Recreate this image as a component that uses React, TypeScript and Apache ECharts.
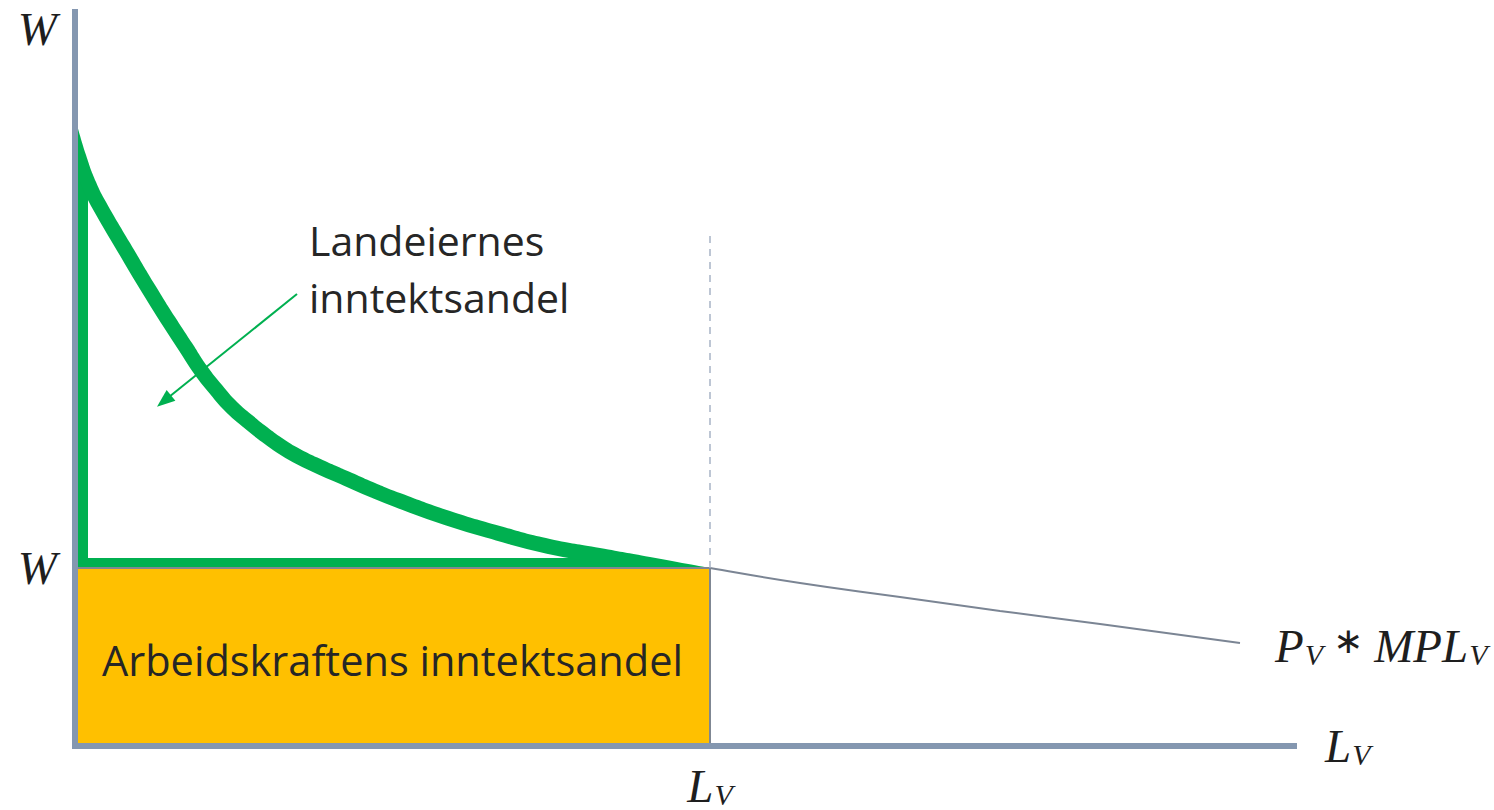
import { useEffect, useRef } from 'react';
import * as echarts from 'echarts';

// ---- data (x: labour L_V, y: wage / value of marginal product) ----
const CURVE_X = [1, 11, 21, 31, 55, 80, 100, 117, 132, 147, 162, 177, 192, 207, 225, 250, 275, 300, 325, 375, 425, 475, 525, 575, 635, 725, 825, 925, 1025, 1165];
const CURVE_Y = [625, 591, 564, 544, 503, 461, 429, 403, 380, 361, 344, 331, 319, 308, 297, 285, 274, 263, 253, 235, 220, 207, 198, 189, 178, 163, 149, 135, 122, 103];
const L_V = 635;
const W = 178;
const X_MAX = 1219;
const Y_MAX = 734;
const W_TOP_LABEL = 717;
const DASH_TOP = 516;
const ARROW_FROM = [222, 452];
const ARROW_TO = [89, 345];
const RECT_LABEL = 'Arbeidskraftens inntektsandel';
const LAND_LABEL = ['Landeiernes', 'inntektsandel'];
const Y_LABELS = [W, W_TOP_LABEL];
const X_LABELS = [L_V];

// ---- styles ----
const GREEN = '#00B050';
const AXIS = '#8497B0';
const ORANGE = '#FFC000';
const GRAY = '#7B8594';
const DASH = '#A8B4C6';
const TEXT = '#262626';
const MATH = '#1E1E1E';
const BAND_V = 13;
const BAND_H = 10;
const STROKE = 30;

const PLOT = { left: 75, top: 12, width: 1219, height: 734 };

function subGrid(x0: number, x1: number, y0: number, y1: number) {
  const sx = PLOT.width / X_MAX;
  const sy = PLOT.height / Y_MAX;
  return {
    left: PLOT.left + x0 * sx,
    top: PLOT.top + (Y_MAX - y1) * sy,
    width: (x1 - x0) * sx,
    height: (y1 - y0) * sy,
    outerBoundsMode: 'none',
    containLabel: false,
  };
}

const mathFont = { fontFamily: 'Liberation Serif', fontStyle: 'italic', color: MATH };
const mathRich = {
  m: { ...mathFont, fontSize: 47, lineHeight: 47, verticalAlign: 'top' },
  s: { ...mathFont, fontSize: 30, lineHeight: 30, padding: [21, 0, 0, 1], verticalAlign: 'bottom' },
  a: { fontFamily: 'DejaVu Sans', fontSize: 36, lineHeight: 47, color: MATH, padding: [0, 11, 0, 10], verticalAlign: 'top' },
};

export default function App() {
  const ref = useRef<HTMLDivElement>(null);

  useEffect(() => {
    if (!ref.current) return;
    const chart = echarts.init(ref.current, undefined, { renderer: 'svg' });
    const curve = CURVE_X.map((x, i) => [x, CURVE_Y[i]]);
    const curveToLv = curve.filter((p) => p[0] <= L_V);

    const hiddenAxis = (gridIndex: number, min: number, max: number) => ({
      gridIndex, type: 'value', min, max, show: false,
    });

    const areaSeries = (xi: number, color: string, origin: string, z: number) => ({
      type: 'line',
      xAxisIndex: xi,
      yAxisIndex: xi,
      data: curveToLv,
      smooth: 0.5,
      symbol: 'none',
      silent: true,
      z,
      lineStyle: { width: 0, opacity: 0 },
      areaStyle: { color, opacity: 1, origin },
      emphasis: { disabled: true },
    });

    chart.setOption({
      animation: false,
      backgroundColor: '#ffffff',
      grid: [
        { ...subGrid(0, X_MAX, 0, Y_MAX) },
        { ...subGrid(0, L_V, W, Y_MAX) },
        { ...subGrid(BAND_V, L_V, W + BAND_H, Y_MAX) },
        { ...subGrid(BAND_V, L_V - STROKE / 2, W, Y_MAX) },
      ],
      xAxis: [
        {
          gridIndex: 0,
          type: 'value',
          min: 0,
          max: X_MAX,
          z: 10,
          axisLine: { show: true, onZero: false, lineStyle: { color: AXIS, width: 6, cap: 'square' } },
          axisTick: { show: false },
          splitLine: { show: false },
          axisLabel: {
            customValues: X_LABELS,
            formatter: () => '{m|L}{s|V}',
            margin: 16,
            rich: mathRich,
          },
          name: '{m|L}{s|V}',
          nameLocation: 'end',
          nameGap: 31,
          nameTextStyle: { rich: mathRich, verticalAlign: 'middle' },
        },
        hiddenAxis(1, 0, L_V),
        hiddenAxis(2, BAND_V, L_V),
        hiddenAxis(3, BAND_V, L_V - STROKE / 2),
      ],
      yAxis: [
        {
          gridIndex: 0,
          type: 'value',
          min: 0,
          max: Y_MAX,
          z: 10,
          axisLine: { show: true, onZero: false, lineStyle: { color: AXIS, width: 6, cap: 'square' } },
          axisTick: { show: false },
          splitLine: { show: false },
          axisLabel: {
            customValues: Y_LABELS,
            formatter: () => 'W',
            margin: 18,
            padding: [6, 0, 0, 0],
            fontFamily: 'Liberation Serif',
            fontStyle: 'italic',
            fontSize: 47,
            color: MATH,
          },
        },
        hiddenAxis(1, W, Y_MAX),
        hiddenAxis(2, W + BAND_H, Y_MAX),
        hiddenAxis(3, W, Y_MAX),
      ],
      graphic: [
        {
          type: 'text',
          left: 309,
          top: 211,
          z: 100,
          silent: true,
          style: {
            text: LAND_LABEL.join('\n'),
            fontFamily: 'Open Sans',
            fontSize: 41,
            lineHeight: 57,
            fill: TEXT,
          },
        },
      ],
      series: [
        areaSeries(1, GREEN, 'start', 2),
        areaSeries(2, '#ffffff', 'start', 3),
        {
          type: 'line',
          xAxisIndex: 0,
          yAxisIndex: 0,
          data: curve,
          smooth: 0.5,
          symbol: 'none',
          silent: true,
          z: 3.5,
          lineStyle: { width: 2, color: GRAY },
          emphasis: { disabled: true },
          endLabel: {
            show: true,
            formatter: () => '{m|P}{s|V}{a|\u2217}{m|MPL}{s|V}',
            distance: 35,
            offset: [0, 3],
            rich: mathRich,
          },
          markLine: {
            silent: true,
            animation: false,
            z: 20,
            symbol: ['none', 'none'],
            label: { show: false },
            emphasis: { disabled: true },
            data: [
              [
                { coord: [L_V, W], lineStyle: { type: [7, 6], color: DASH, width: 1.5 } },
                { coord: [L_V, DASH_TOP] },
              ],
              [
                { coord: ARROW_FROM, symbol: 'none', lineStyle: { type: 'solid', color: GREEN, width: 2 } },
                { coord: ARROW_TO, symbol: 'triangle', symbolSize: [14, 18], itemStyle: { color: GREEN } },
              ],
            ],
          },
        },
        {
          type: 'line',
          xAxisIndex: 3,
          yAxisIndex: 3,
          data: curveToLv,
          smooth: 0.5,
          symbol: 'none',
          silent: true,
          z: 4,
          lineStyle: { width: STROKE, color: GREEN, cap: 'butt' },
          emphasis: { disabled: true },
        },
        areaSeries(1, '#ffffff', 'end', 5),
        {
          type: 'custom',
          xAxisIndex: 0,
          yAxisIndex: 0,
          z: 6,
          silent: true,
          data: [[0, W, L_V, 0]],
          renderItem: (_params: any, api: any) => {
            const p0 = api.coord([api.value(0), api.value(1)]);
            const p1 = api.coord([api.value(2), api.value(3)]);
            return {
              type: 'rect',
              shape: { x: p0[0], y: p0[1], width: p1[0] - p0[0], height: p1[1] - p0[1] },
              style: { fill: ORANGE, stroke: '#7F8793', lineWidth: 2 },
              textContent: {
                style: { text: RECT_LABEL, fontFamily: 'Open Sans', fontSize: 41.5, fill: TEXT },
              },
              textConfig: { position: 'inside', offset: [0, 3] },
            };
          },
        },
      ],
    });

    return () => chart.dispose();
  }, []);

  return <div ref={ref} style={{ position: 'absolute', left: 0, top: 0, width: 1494, height: 810 }} />;
}
